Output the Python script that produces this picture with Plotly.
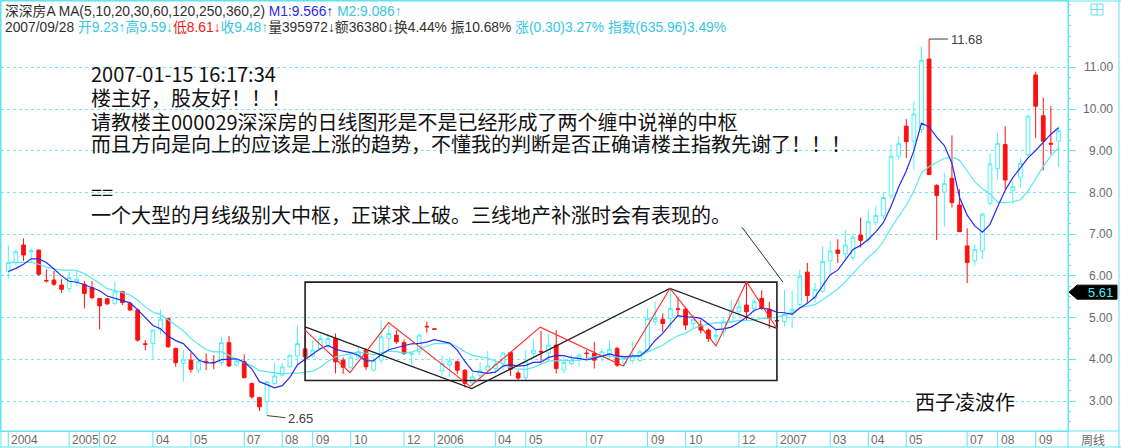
import numpy as np
import pandas as pd
import plotly.graph_objects as go

# ---------------- data (weekly candles, index 0..138) ----------------
opens = [6.12, 6.32, 6.74, 6.58, 6.62, 5.89, 5.90, 5.78, 5.70, 5.86,
         5.80, 5.72, 5.46, 5.45, 5.34, 5.62, 5.34, 5.18, 4.37, 4.38,
         4.72, 4.98, 4.26, 3.90, 3.98, 3.74, 3.95, 3.93, 3.92, 4.40,
         3.86, 3.94, 3.42, 3.08, 2.98, 3.42, 3.62, 3.82, 4.08, 4.25,
         4.08, 4.26, 4.30, 4.50, 3.98, 3.81, 4.05, 4.22, 3.74, 3.98,
         4.50, 4.58, 4.40, 4.12, 4.18, 4.79, 4.73, 3.72, 3.86, 3.94,
         3.74, 3.43, 3.62, 3.74, 3.78, 3.90, 4.16, 3.67, 3.56, 4.14,
         4.19, 4.15, 4.34, 3.74, 3.90, 3.98, 4.15, 4.14, 4.06, 4.13,
         4.26, 3.90, 3.97, 3.97, 4.20, 4.90, 4.96, 4.98, 5.21, 5.20,
         4.86, 4.82, 4.70, 4.54, 4.66, 4.90, 5.14, 5.30, 5.22, 5.46,
         5.20, 4.93, 4.90, 5.12, 5.31, 6.09, 5.47, 5.63, 6.36, 6.62,
         6.53, 6.44, 6.98, 6.88, 7.28, 7.44, 7.92, 8.87, 9.59, 9.23,
         9.51, 11.20, 8.17, 8.01, 8.34, 7.70, 6.72, 6.36, 6.60, 7.74,
         8.57, 9.15, 8.04, 8.35, 8.91, 10.82, 9.84, 9.18, 9.23]
highs = [6.74, 6.64, 6.90, 6.66, 6.63, 6.16, 6.12, 5.92, 6.10, 6.14,
         5.88, 5.88, 5.47, 5.46, 5.88, 5.64, 5.38, 5.22, 4.46, 4.72,
         5.20, 5.00, 4.28, 4.22, 4.16, 4.00, 4.14, 4.10, 4.54, 4.56,
         4.00, 4.12, 3.44, 3.10, 3.48, 3.92, 3.92, 4.10, 4.82, 4.58,
         4.46, 4.58, 4.62, 4.62, 4.05, 4.18, 4.29, 4.26, 4.05, 4.93,
         4.82, 4.70, 4.48, 4.18, 4.62, 4.90, 4.73, 4.10, 4.05, 3.97,
         3.76, 3.66, 3.94, 4.20, 3.97, 4.18, 4.18, 3.73, 4.22, 4.48,
         4.68, 4.60, 4.70, 4.05, 4.10, 4.14, 4.22, 4.42, 4.26, 4.46,
         4.30, 4.06, 4.42, 4.22, 5.22, 5.38, 5.10, 5.70, 5.50, 5.26,
         5.06, 4.94, 4.74, 4.70, 4.98, 5.42, 5.44, 5.86, 5.46, 5.66,
         5.38, 4.98, 5.66, 5.64, 6.15, 6.31, 5.83, 6.71, 6.84, 6.88,
         7.10, 7.02, 7.40, 7.56, 7.68, 8.00, 9.15, 9.35, 9.76, 10.19,
         11.50, 11.68, 8.20, 8.47, 9.37, 8.08, 7.14, 6.76, 7.52, 8.94,
         9.43, 9.59, 8.27, 8.83, 9.87, 10.90, 10.28, 10.07, 9.59]
lows = [5.92, 6.24, 6.36, 6.32, 6.00, 5.84, 5.76, 5.59, 5.60, 5.76,
        5.22, 5.44, 4.72, 5.30, 5.30, 5.30, 5.17, 4.42, 4.22, 3.98,
        4.60, 4.28, 3.82, 3.46, 3.68, 3.66, 3.74, 3.76, 3.84, 3.82,
        3.82, 3.54, 3.06, 2.76, 2.65, 3.38, 3.58, 3.80, 3.82, 3.94,
        4.05, 4.22, 4.26, 3.66, 3.65, 3.76, 4.00, 3.74, 3.70, 3.90,
        4.22, 4.37, 4.10, 3.86, 4.10, 4.64, 4.72, 3.60, 3.57, 3.65,
        3.32, 3.36, 3.50, 3.65, 3.70, 3.74, 3.60, 3.50, 3.50, 4.02,
        3.94, 3.98, 3.66, 3.66, 3.86, 3.82, 3.98, 3.78, 3.94, 4.02,
        3.82, 3.82, 3.90, 3.94, 4.18, 4.82, 4.66, 4.74, 5.02, 4.70,
        4.74, 4.62, 4.42, 4.38, 4.54, 4.86, 5.02, 4.94, 5.14, 5.18,
        4.74, 4.74, 4.79, 4.75, 5.27, 5.35, 5.35, 5.59, 6.07, 6.31,
        6.41, 6.37, 6.68, 6.80, 7.20, 7.36, 7.84, 8.79, 8.83, 8.55,
        9.43, 8.43, 6.86, 7.18, 7.64, 7.06, 5.83, 6.23, 6.40, 7.68,
        8.31, 8.08, 7.72, 8.12, 8.83, 9.31, 8.53, 8.91, 8.61]
closes = [6.32, 6.58, 6.50, 6.60, 6.04, 5.88, 5.80, 5.68, 5.96, 5.92,
          5.58, 5.48, 5.28, 5.33, 5.62, 5.36, 5.18, 4.46, 4.36, 4.70,
          4.96, 4.30, 3.92, 4.00, 3.76, 3.94, 3.94, 3.92, 4.40, 3.84,
          3.96, 3.56, 3.10, 2.86, 3.46, 3.60, 3.82, 4.10, 4.38, 4.06,
          4.22, 4.50, 4.50, 3.94, 3.81, 4.05, 4.18, 3.82, 3.98, 4.54,
          4.62, 4.42, 4.14, 4.14, 4.58, 4.78, 4.72, 3.90, 3.96, 3.74,
          3.42, 3.58, 3.74, 3.84, 3.88, 4.15, 3.76, 3.55, 3.94, 4.22,
          4.18, 4.34, 3.78, 3.92, 3.98, 4.10, 4.14, 3.98, 4.18, 4.24,
          3.86, 4.02, 4.10, 4.18, 4.98, 4.98, 4.86, 5.22, 5.20, 4.82,
          4.96, 4.70, 4.50, 4.58, 4.90, 5.18, 5.26, 5.14, 5.38, 5.22,
          4.98, 4.92, 5.08, 5.19, 5.99, 5.53, 5.67, 6.35, 6.60, 6.54,
          6.74, 6.93, 6.85, 7.30, 7.45, 7.88, 8.87, 9.17, 9.22, 9.88,
          11.17, 8.43, 7.93, 8.22, 7.76, 7.06, 6.32, 6.63, 7.48, 8.69,
          9.18, 8.30, 8.14, 8.70, 9.83, 10.07, 9.23, 9.16, 9.48]
# closes of the weeks before the first drawn candle (seed the moving averages)
prior_closes = [6.60, 6.50, 6.55, 6.50, 6.55, 6.20, 6.00, 5.95, 6.05]

# x-axis month / year labels (candle index where each starts)
tick_idx = [0, 8, 12, 19, 24, 31, 36, 40, 45, 52, 56, 64, 68, 76, 84, 89, 96,
            101, 108, 113, 118, 126, 130, 135]
tick_text = ["2004", "2005", "02", "04", "05", "07", "08", "09", "10", "12",
             "2006", "04", "05", "07", "09", "10", "12", "2007", "03", "04",
             "05", "07", "08", "09"]
price_ticks = [3, 4, 5, 6, 7, 8, 9, 10, 11]

# hand-drawn overlay (candle index, price)
box_idx = [39, 101]
box_price = [3.49, 5.85]
black_zz_idx = [39, 60.9, 86.95, 101]
black_zz_price = [4.78, 3.30, 5.70, 4.74]
red_zz_idx = [39, 44.9, 49.97, 60.7, 69.9, 80.8, 86.95, 93.0, 97.0, 101]
red_zz_price = [4.70, 3.68, 4.88, 3.35, 4.77, 3.84, 5.70, 4.32, 5.86, 4.74]
pointer_idx = [96.4, 101.8]
pointer_price = [7.17, 5.85]
cursor_price = 5.61

note_lines = ["2007-01-15 16:17:34",
              "楼主好，股友好！！！",
              "请教楼主000029深深房的日线图形是不是已经形成了两个缠中说禅的中枢",
              "而且方向是向上的应该是上涨的趋势，不懂我的判断是否正确请楼主指教先谢了！！！",
              "==",
              "一个大型的月线级别大中枢，正谋求上破。三线地产补涨时会有表现的。"]
note_y_px = [73, 97, 121, 144, 191, 215]
signature = "西子凌波作"

# ---------------- styling ----------------
CYAN = "#4CF2F6"
FRAME = "#62E4EE"
GRID = "#7FE3EE"
RED = "#FF1010"
BLUE = "#2A2AEE"
TXTCYAN = "#36C6E4"
GRAY = "#6A6A6A"

W, H = 1121, 448
PL, PR, PT, PB = 1, 1068, 1, 431


def xp(px):
    return (px - PL) / (PR - PL)


def yp(py):
    return (PB - py) / (PB - PT)


idx = np.arange(len(closes))
all_close = pd.Series(prior_closes + closes)
ma5 = all_close.rolling(5, min_periods=1).mean().iloc[len(prior_closes):].to_numpy()
ma10 = all_close.rolling(10, min_periods=1).mean().iloc[len(prior_closes):].to_numpy()

fig = go.Figure()
fig.add_trace(go.Candlestick(
    x=idx, open=opens, high=highs, low=lows, close=closes,
    increasing=dict(line=dict(color=CYAN, width=1), fillcolor="white"),
    decreasing=dict(line=dict(color=RED, width=1), fillcolor=RED),
    whiskerwidth=0, hoverinfo="skip", showlegend=False))
fig.add_trace(go.Scatter(x=idx, y=ma10, mode="lines", line=dict(color="#58E6F4", width=1.2),
                         hoverinfo="skip", showlegend=False))
fig.add_trace(go.Scatter(x=idx, y=ma5, mode="lines", line=dict(color=BLUE, width=1.2),
                         hoverinfo="skip", showlegend=False))

shapes = []
# hand-drawn rectangle and zigzags
shapes.append(dict(type="rect", xref="x", yref="y", x0=box_idx[0], x1=box_idx[1],
                   y0=box_price[0], y1=box_price[1], line=dict(color="#202020", width=1.6)))


def polyline(xs, ys):
    return "M" + " L".join(f"{a},{b}" for a, b in zip(xs, ys))


shapes.append(dict(type="path", xref="x", yref="y", path=polyline(black_zz_idx, black_zz_price),
                   line=dict(color="#202020", width=1.3)))
shapes.append(dict(type="path", xref="x", yref="y", path=polyline(red_zz_idx, red_zz_price),
                   line=dict(color="#FF2A2A", width=1.1)))
shapes.append(dict(type="line", xref="x", yref="y", x0=pointer_idx[0], x1=pointer_idx[1],
                   y0=pointer_price[0], y1=pointer_price[1], line=dict(color="#303030", width=1)))

# high / low markers computed from data
hi_i = int(np.argmax(highs)); hi_v = highs[hi_i]
lo_i = int(np.argmin(lows)); lo_v = lows[lo_i]
shapes.append(dict(type="line", xref="x", yref="y", x0=hi_i, x1=hi_i + 2.5, y0=hi_v, y1=hi_v,
                   line=dict(color="#404040", width=1)))
shapes.append(dict(type="line", xref="x", yref="y", x0=lo_i, x1=lo_i + 2.4, y0=lo_v, y1=lo_v - 0.05,
                   line=dict(color="#404040", width=1)))

# frame pieces outside plot area
line_style = dict(color=FRAME, width=1)
shapes += [
    dict(type="line", xref="paper", yref="paper", x0=xp(0), x1=xp(W), y0=yp(1), y1=yp(1), line=line_style),
    dict(type="line", xref="paper", yref="paper", x0=xp(0), x1=xp(1119), y0=yp(431), y1=yp(431), line=line_style),
    dict(type="line", xref="paper", yref="paper", x0=xp(0), x1=xp(W), y0=yp(447), y1=yp(447), line=line_style),
    dict(type="line", xref="paper", yref="paper", x0=xp(1068), x1=xp(1068), y0=yp(0), y1=yp(448), line=line_style),
    dict(type="line", xref="paper", yref="paper", x0=xp(1119), x1=xp(1119), y0=yp(0), y1=yp(448), line=line_style),
    dict(type="line", xref="paper", yref="paper", x0=xp(1), x1=xp(1), y0=yp(0), y1=yp(448), line=line_style),
    # small window icon
    dict(type="rect", xref="paper", yref="paper", x0=xp(1091), x1=xp(1103), y0=yp(4), y1=yp(15), line=line_style),
    dict(type="line", xref="paper", yref="paper", x0=xp(1091), x1=xp(1103), y0=yp(9.5), y1=yp(9.5), line=line_style),
    dict(type="line", xref="paper", yref="paper", x0=xp(1097), x1=xp(1097), y0=yp(4), y1=yp(15), line=line_style),
]
# x-axis separators
for t in tick_idx:
    shapes.append(dict(type="line", xref="x", yref="paper", x0=t, x1=t, y0=yp(431), y1=yp(447),
                       line=dict(color=FRAME, width=1)))

# cursor price tag
hh = 7 / 41.7
shapes.append(dict(type="path", xref="paper", yref="y",
                   path=(f"M{xp(1069)},{cursor_price} L{xp(1077)},{cursor_price + hh} "
                         f"L{xp(1117)},{cursor_price + hh} L{xp(1117)},{cursor_price - hh} "
                         f"L{xp(1077)},{cursor_price - hh} Z"),
                   fillcolor="#000000", line=dict(color="#000000", width=1)))

ann = []
HDR_FONT = "Liberation Sans, Arial, Noto Sans CJK SC"
hdr1 = ("深深房A MA(5,10,20,30,60,120,250,360,2) "
        f"<span style='color:{BLUE}'>M1:9.566↑</span> "
        f"<span style='color:{TXTCYAN}'>M2:9.086↑</span>")
hdr2 = ("2007/09/28 "
        f"<span style='color:{TXTCYAN}'>开9.23↑高9.59↓</span>"
        f"<span style='color:#F01818'>低8.61↓</span>"
        f"<span style='color:{TXTCYAN}'>收9.48↑</span>"
        "量395972↓额36380↓换4.44% 振10.68% "
        f"<span style='color:{TXTCYAN}'>涨(0.30)3.27% 指数(635.96)3.49%</span>")
ann.append(dict(text=hdr1, xref="paper", yref="paper", x=xp(3), y=yp(11), xanchor="left",
                yanchor="middle", showarrow=False, font=dict(family=HDR_FONT, size=13.8, color="#303030")))
ann.append(dict(text=hdr2, xref="paper", yref="paper", x=xp(3), y=yp(27), xanchor="left",
                yanchor="middle", showarrow=False, font=dict(family=HDR_FONT, size=13.8, color="#303030")))

NOTE_FONT = "Noto Sans CJK SC"
for txt, py in zip(note_lines, note_y_px):
    ann.append(dict(text=txt, xref="paper", yref="paper", x=xp(89), y=yp(py), xanchor="left",
                    yanchor="middle", showarrow=False,
                    font=dict(family=NOTE_FONT, size=20, color="#111111")))
ann.append(dict(text=signature, xref="paper", yref="paper", x=xp(965), y=yp(401), xanchor="center",
                yanchor="middle", showarrow=False, bgcolor="white", borderpad=0,
                font=dict(family=NOTE_FONT, size=20, color="#111111")))

ann.append(dict(text=f"{hi_v:.2f}", xref="x", yref="y", x=hi_i + 2.6, y=hi_v, xanchor="left",
                yanchor="middle", showarrow=False, font=dict(family="Liberation Sans", size=13, color="#404040")))
ann.append(dict(text=f"{lo_v:.2f}", xref="x", yref="y", x=lo_i + 2.5, y=lo_v - 0.06, xanchor="left",
                yanchor="middle", showarrow=False, font=dict(family="Liberation Sans", size=13, color="#404040")))

for v in price_ticks:
    ann.append(dict(text=f"{v:.2f}", xref="paper", yref="y", x=xp(1115), y=v, xanchor="right",
                    yanchor="middle", showarrow=False, font=dict(family="Liberation Sans", size=12, color=GRAY)))
ann.append(dict(text=f"{cursor_price:.2f}", xref="paper", yref="y", x=xp(1115), y=cursor_price,
                xanchor="right", yanchor="middle", showarrow=False,
                font=dict(family="Liberation Sans", size=13, color="#40F0F8")))

for t, lab in zip(tick_idx, tick_text):
    ann.append(dict(text=lab, xref="x", yref="paper", x=t, y=yp(439.5), xanchor="left", xshift=1,
                    yanchor="middle", showarrow=False,
                    font=dict(family="Liberation Sans Narrow, Liberation Sans", size=12, color=GRAY)))
ann.append(dict(text="周线", xref="paper", yref="paper", x=xp(1093), y=yp(439.5), xanchor="center",
                yanchor="middle", showarrow=False, font=dict(family="Noto Sans CJK SC", size=12, color=GRAY)))

xspan = (PR - PL) / 7.61
x_min = -(8.3 - PL) / 7.61
y_min = 3 - (PB - 401) / 41.7
y_max = 3 + (401 - PT) / 41.7

fig.update_layout(
    width=W, height=H, autosize=False,
    margin=dict(l=PL, r=W - PR, t=PT, b=H - PB, pad=0),
    paper_bgcolor="white", plot_bgcolor="white",
    showlegend=False, hovermode=False,
    shapes=shapes, annotations=ann,
    xaxis=dict(range=[x_min, x_min + xspan], showgrid=False, zeroline=False, showticklabels=False,
               ticks="", showline=True, linecolor=FRAME, linewidth=1, mirror=True,
               rangeslider=dict(visible=False), fixedrange=True),
    yaxis=dict(range=[y_min, y_max], side="right", tickvals=price_ticks, showticklabels=False,
               ticks="outside", ticklen=7, tickcolor=FRAME, showgrid=True, gridcolor=GRID,
               griddash="dot", gridwidth=1, zeroline=False, showline=True, linecolor=FRAME,
               linewidth=1, mirror=True, fixedrange=True,
               minor=dict(ticks="outside", ticklen=2, dtick=0.25, tickcolor=FRAME, showgrid=False)),
)

fig.write_html("out.html", config=dict(displayModeBar=False),
               post_script="document.body.style.margin='0';document.body.style.overflow='hidden';")
